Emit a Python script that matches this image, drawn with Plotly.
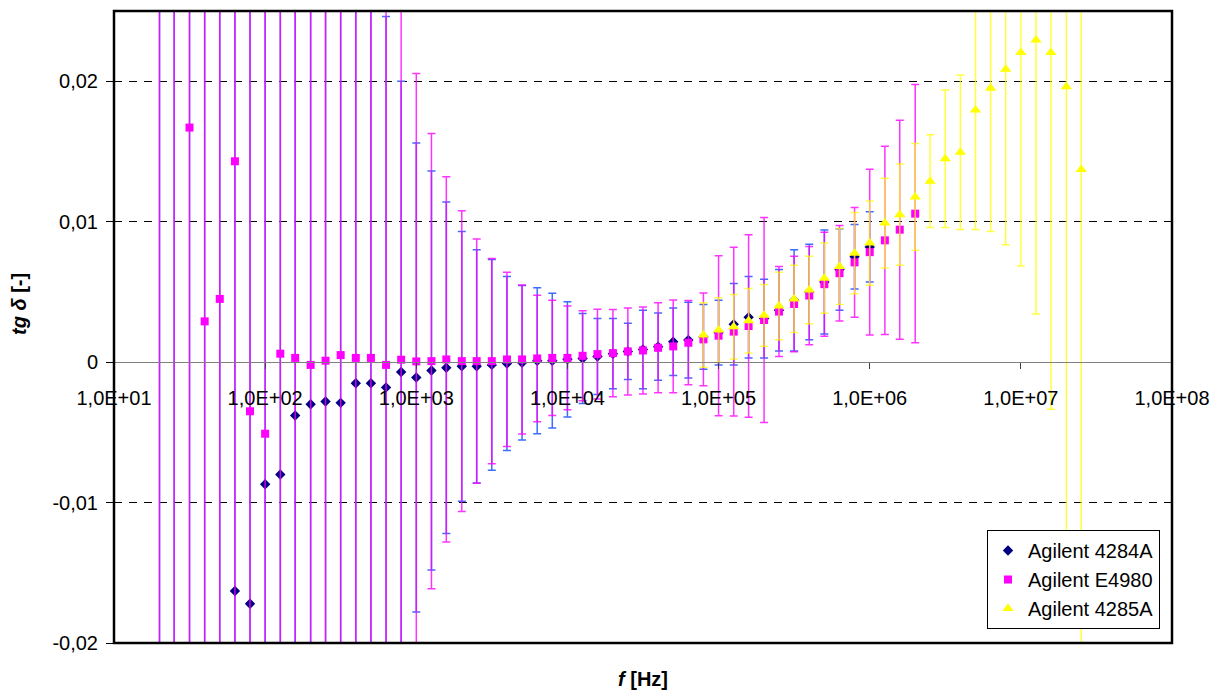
import plotly.graph_objects as go

# Frequencies (Hz), 10 points per decade
freq_4284A = [20, 25, 31.6, 39.8, 50.1, 63.1, 79.4, 100, 126, 158, 200, 251, 316, 398, 501, 631, 794,
              1000, 1260, 1580, 2000, 2510, 3160, 3980, 5010, 6310, 7940,
              10000, 12600, 15800, 20000, 25100, 31600, 39800, 50100, 63100, 79400,
              100000, 126000, 158000, 200000, 251000, 316000, 398000, 501000, 631000, 794000,
              1000000]
tg_4284A = [-0.040, 0.032, -0.035, -0.028, -0.024, -0.0163, -0.0172, -0.0087, -0.0080, -0.0038,
            -0.0030, -0.0028, -0.0029, -0.0015, -0.0015, -0.0018, -0.0007,
            -0.0011, -0.0006, -0.0004, -0.0003, -0.0003, -0.0002, -0.0001, -0.00005, 0.0001, 0.0001,
            0.0002, 0.00026, 0.0004, 0.0006, 0.00076, 0.0009, 0.0011, 0.00145, 0.00157, 0.0018,
            0.0021, 0.0027, 0.0032, 0.0031, 0.0037, 0.0044, 0.0050, 0.0057, 0.0066, 0.0075,
            0.0082]
err_4284A = [0.84, 0.66, 0.53, 0.42, 0.33, 0.26, 0.21, 0.17, 0.13, 0.105,
             0.084, 0.066, 0.053, 0.042, 0.033, 0.0264, 0.0207,
             0.0167, 0.0142, 0.0118, 0.0096, 0.0083, 0.0075, 0.0062, 0.0055, 0.0052, 0.0048,
             0.0041, 0.0032, 0.0027, 0.0025, 0.0020, 0.0028, 0.0024, 0.0024, 0.0027, 0.0023,
             0.0023, 0.0029, 0.0029, 0.0028, 0.0029, 0.0036, 0.0034, 0.0037, 0.0029, 0.0023,
             0.0025]

freq_E4980 = [20, 25, 31.6, 39.8, 50.1, 63.1, 79.4, 100, 126, 158, 200, 251, 316, 398, 501, 631, 794,
              1000, 1260, 1580, 2000, 2510, 3160, 3980, 5010, 6310, 7940,
              10000, 12600, 15800, 20000, 25100, 31600, 39800, 50100, 63100, 79400,
              100000, 126000, 158000, 200000, 251000, 316000, 398000, 501000, 631000, 794000,
              1000000, 1260000, 1580000, 2000000]
tg_E4980 = [0.034, -0.026, 0.0167, 0.0029, 0.0045, 0.0143, -0.0035, -0.0051, 0.0006, 0.0003,
            -0.0002, 0.0001, 0.0005, 0.0003, 0.0003, -0.0002, 0.00017,
            0.00005, 0.00007, 0.00019, 0.00007, 0.00007, 0.00007, 0.00019, 0.00019, 0.00026, 0.0003,
            0.0003, 0.00045, 0.00057, 0.00064, 0.00076, 0.00083, 0.00102, 0.00112, 0.00138, 0.00162,
            0.00188, 0.00217, 0.00257, 0.0030, 0.0036, 0.00414, 0.00474, 0.00555, 0.00633, 0.0071,
            0.00783, 0.00867, 0.00943, 0.01057]
err_E4980 = [1.0, 0.82, 0.65, 0.52, 0.41, 0.33, 0.26, 0.21, 0.16, 0.13,
             0.10, 0.082, 0.065, 0.052, 0.041, 0.033, 0.026,
             0.0205, 0.0162, 0.0130, 0.0107, 0.0087, 0.0073, 0.0062, 0.0053, 0.0045, 0.0041,
             0.0037, 0.0032, 0.0032, 0.0031, 0.0031, 0.0031, 0.0032, 0.0033, 0.0030, 0.0033,
             0.0057, 0.0060, 0.0065, 0.0073, 0.0032, 0.0034, 0.0035, 0.0037, 0.0034, 0.0039,
             0.0059, 0.0067, 0.0078, 0.0092]

freq_4285A = [79400, 100000, 126000, 158000, 200000, 251000, 316000, 398000, 501000, 631000, 794000,
              1000000, 1260000, 1580000, 2000000, 2510000, 3160000, 3980000, 5010000, 6310000, 7940000,
              10000000, 12600000, 15800000, 20000000, 25100000]
tg_4285A = [0.00193, 0.00229, 0.00252, 0.00295, 0.00333, 0.0040, 0.0045, 0.00514, 0.00598, 0.00681, 0.00776,
            0.00848, 0.0099, 0.0105, 0.01176, 0.01288, 0.01448, 0.01495, 0.01795, 0.0195, 0.02086,
            0.02205, 0.02293, 0.02205, 0.0196, 0.01371]
err_4285A = [0.0023, 0.0023, 0.0023, 0.0023, 0.0022, 0.0024, 0.0024, 0.0024, 0.0025, 0.0027, 0.0029,
             0.0030, 0.0032, 0.0036, 0.0038, 0.0033, 0.0049, 0.0055, 0.0085, 0.0102, 0.0125,
             0.0152, 0.0195, 0.0254, 0.037, 0.034]

x_tickvals = [1e1, 1e2, 1e3, 1e4, 1e5, 1e6, 1e7, 1e8]
x_ticktext = ["1,0E+01", "1,0E+02", "1,0E+03", "1,0E+04", "1,0E+05", "1,0E+06", "1,0E+07", "1,0E+08"]
y_tickvals = [-0.02, -0.01, 0, 0.01, 0.02]
y_ticktext = ["-0,02", "-0,01", "0", "0,01", "0,02"]

FONT = "Liberation Sans, Arial, sans-serif"
W, H = 1214, 691
ML, MR, MT, MB = 114, 42, 11, 48

fig = go.Figure()
fig.add_trace(go.Scatter(
    x=freq_4284A, y=tg_4284A, mode="markers", name="Agilent 4284A",
    marker=dict(symbol="diamond", size=8, color="#000080", line=dict(width=0)),
    error_y=dict(type="data", array=err_4284A, visible=True, color="#3d6dff", thickness=1.5, width=4),
))
fig.add_trace(go.Scatter(
    x=freq_E4980, y=tg_E4980, mode="markers", name="Agilent E4980",
    marker=dict(symbol="square", size=8, color="#FF00FF", line=dict(width=0)),
    error_y=dict(type="data", array=err_E4980, visible=True, color="rgba(255,0,255,0.8)", thickness=1.5, width=4),
))
fig.add_trace(go.Scatter(
    x=freq_4285A, y=tg_4285A, mode="markers", name="Agilent 4285A",
    marker=dict(symbol="triangle-up", size=10, color="#FFFF00", line=dict(width=0)),
    error_y=dict(type="data", array=err_4285A, visible=True, color="rgba(255,255,0,0.75)", thickness=1.5, width=4),
))

plot_w = W - ML - MR
plot_h = H - MT - MB
zero_pos = (0 - (-0.02)) / 0.045

fig.update_layout(
    width=W, height=H,
    margin=dict(l=ML, r=MR, t=MT, b=MB, autoexpand=False),
    paper_bgcolor="white", plot_bgcolor="white",
    font=dict(family=FONT, size=20, color="black"),
    showlegend=True,
    legend=dict(
        x=(1160 - ML) / plot_w, y=(H - MB - 629) / plot_h,
        xanchor="right", yanchor="bottom",
        bgcolor="white", bordercolor="black", borderwidth=1,
        font=dict(family=FONT, size=20, color="black"),
        itemwidth=30,
    ),
    xaxis=dict(
        type="log", range=[1, 8],
        tickvals=x_tickvals, ticktext=x_ticktext,
        anchor="free", position=zero_pos,
        showline=True, linecolor="#808080", linewidth=1,
        ticks="outside", ticklen=6, tickcolor="#404040", tickwidth=1,
        showgrid=False, zeroline=False, automargin=False,
        tickfont=dict(family=FONT, size=20, color="black"),
        ticklabelstandoff=12,
    ),
    yaxis=dict(
        range=[-0.02, 0.025],
        tickvals=y_tickvals, ticktext=y_ticktext,
        showline=False, automargin=False,
        ticks="outside", ticklen=7, tickcolor="black", tickwidth=1,
        showgrid=True, gridcolor="black", gridwidth=1, griddash="8px,7px",
        zeroline=False,
        tickfont=dict(family=FONT, size=20, color="black"),
        ticklabelstandoff=4,
    ),
    shapes=[
        dict(type="rect", xref="paper", yref="paper", x0=0, x1=1, y0=0, y1=1,
             line=dict(color="black", width=2.5), layer="above"),
    ],
    annotations=[
        dict(text="<b><i>f</i> [Hz]</b>", xref="paper", yref="paper",
             x=(643 - ML) / plot_w, y=(H - MB - 679) / plot_h,
             showarrow=False, xanchor="center", yanchor="middle",
             font=dict(family=FONT, size=20, color="black")),
        dict(text="<b><i>tg δ</i> [-]</b>", xref="paper", yref="paper",
             x=(19 - ML) / plot_w, y=(H - MB - 304) / plot_h,
             showarrow=False, xanchor="center", yanchor="middle", textangle=-90,
             font=dict(family=FONT, size=20, color="black")),
    ],
)

fig.write_html("out.html")
